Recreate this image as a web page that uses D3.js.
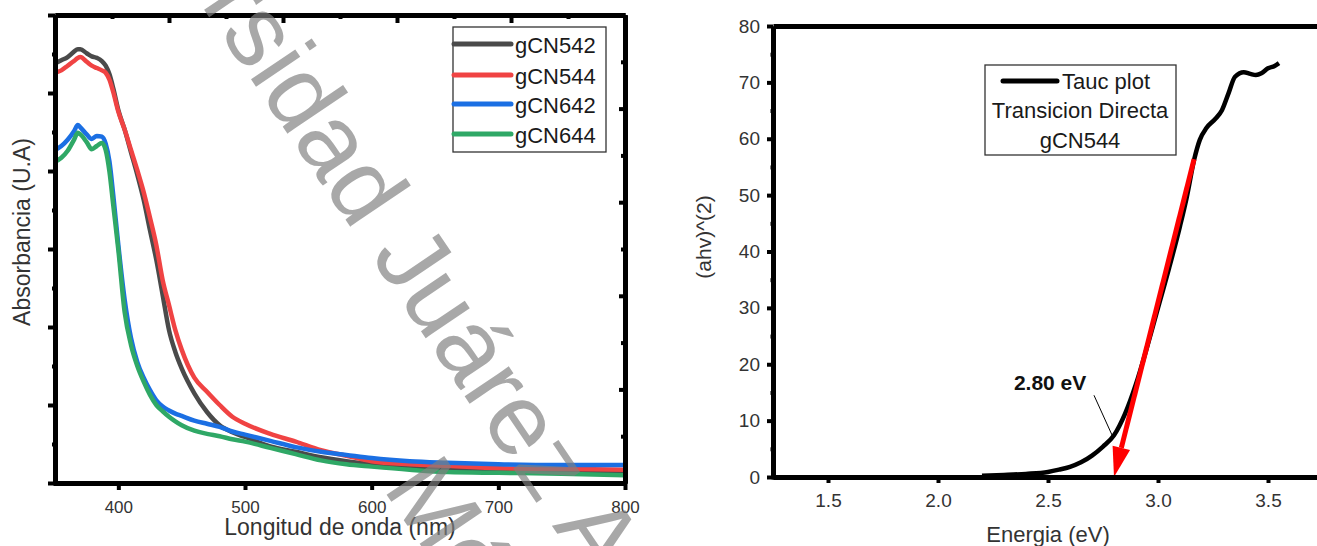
<!DOCTYPE html>
<html><head><meta charset="utf-8">
<script src="https://cdn.jsdelivr.net/npm/d3@7"></script>
<style>
body{margin:0;background:#fff}
svg{display:block}
text{font-family:"Liberation Sans",Arial,sans-serif}
</style>
</head><body>
<svg id="c" width="1317" height="546"></svg>
<script>
// ---------- Data: left chart (UV-Vis absorbance) ----------
const wavelengths = [350,355,360,365,368,370,375,379,383,387,390,393,396,400,405,410,415,420,425,430,435,440,445,450,460,470,480,490,500,520,540,560,580,600,630,660,700,750,800];
const gCN542 = [5.38,5.42,5.46,5.53,5.56,5.56,5.51,5.47,5.45,5.41,5.35,5.24,5.06,4.78,4.53,4.24,3.95,3.63,3.24,2.86,2.41,1.96,1.68,1.47,1.15,0.91,0.74,0.65,0.59,0.47,0.40,0.33,0.28,0.24,0.21,0.18,0.17,0.15,0.14];
const gCN544 = [5.26,5.29,5.35,5.41,5.45,5.46,5.40,5.35,5.32,5.29,5.26,5.17,5.01,4.76,4.53,4.27,4.01,3.73,3.40,3.05,2.60,2.28,1.96,1.71,1.35,1.17,1.00,0.85,0.76,0.63,0.53,0.42,0.35,0.28,0.24,0.22,0.19,0.18,0.17];
const gCN642 = [4.27,4.32,4.40,4.51,4.59,4.56,4.47,4.41,4.45,4.44,4.35,4.12,3.69,3.05,2.35,1.86,1.55,1.35,1.19,1.06,0.98,0.93,0.89,0.86,0.80,0.76,0.72,0.66,0.62,0.54,0.46,0.40,0.36,0.32,0.28,0.26,0.24,0.23,0.23];
const gCN644 = [4.12,4.17,4.26,4.40,4.49,4.47,4.37,4.28,4.32,4.36,4.27,3.99,3.56,2.99,2.19,1.77,1.50,1.30,1.13,1.00,0.92,0.85,0.79,0.74,0.67,0.63,0.60,0.56,0.53,0.45,0.37,0.29,0.24,0.21,0.17,0.14,0.13,0.12,0.10];
const seriesNames = ["gCN542","gCN544","gCN642","gCN644"];
const seriesColors = ["#4a4a4a","#f04343","#1b6fe3","#2fa866"];
const nmTicks = [400,500,600,700,800];
const nmMinor = [350,450,550,650,750];
const absMajor = [0,1,2,3,4,5,6];
const absMinor = [0.5,1.5,2.5,3.5,4.5,5.5];
const auxMajor = [0,0.2,0.4,0.6,0.8,1.0];
const auxMinor = [0.1,0.3,0.5,0.7,0.9];

// ---------- Data: right chart (Tauc plot) ----------
const energy = [2.2,2.3,2.4,2.5,2.55,2.6,2.65,2.7,2.75,2.8,2.85,2.9,2.95,3.0,3.05,3.1,3.13,3.165,3.19,3.22,3.26,3.29,3.32,3.35,3.39,3.42,3.445,3.47,3.5,3.53,3.55];
const taucValues = [0.2,0.35,0.55,0.9,1.3,1.8,2.6,3.8,5.4,7.4,11.2,16.5,23,30,37,44.5,49.5,56.4,59.8,61.9,63.5,65,68,71,71.8,71.5,71.3,71.6,72.5,72.9,73.4];
const fitEnergy = [3.164, 2.80];
const fitValues = [56.4, 0];
const eTicks = [1.5,2.0,2.5,3.0,3.5];
const eMinor = [1.25,1.75,2.25,2.75,3.25,3.75];
const tTicks = [0,10,20,30,40,50,60,70,80];
const tMinor = [5,15,25,35,45,55,65,75];
const gapLabel = "2.80 eV";
const gapLabelPos = [2.345, 15.4];
const gapLeader = [[2.709,14.5],[2.795,7.1]];
const taucLegend = ["Tauc plot","Transicion Directa","gCN544"];

// ---------- Watermark text ----------
const watermarkLines = ["Universidad Juárez Autónoma de Tabasco","México"];

const svg = d3.select("#c");

function styleAxis(g, w, tickW){
  g.select(".domain").attr("stroke","#000").attr("stroke-width",w);
  g.selectAll(".tick line").attr("stroke","#000").attr("stroke-width",tickW);
}

// ================= LEFT CHART =================
const x1 = d3.scaleLinear().domain([350,800]).range([55,625]);
const y1 = d3.scaleLinear().domain([0,6]).range([483,15]);
const xTop = d3.scaleLinear().domain([0,1]).range([55,625]);
const yRight = d3.scaleLinear().domain([0,1]).range([483,15]);

const L = svg.append("g");

const line1 = d3.line().x((d,i)=>x1(wavelengths[i])).y(d=>y1(d)).curve(d3.curveMonotoneX);
[gCN542,gCN544,gCN642,gCN644].forEach((s,k)=>{
  L.append("path").attr("d",line1(s)).attr("fill","none")
   .attr("stroke",seriesColors[k]).attr("stroke-width",4.5).attr("stroke-linejoin","round");
});

const gb = L.append("g").attr("transform","translate(0,483)")
  .call(d3.axisBottom(x1).tickValues(nmTicks).tickSize(7).tickSizeOuter(0).tickPadding(11));
styleAxis(gb,5,4);
gb.selectAll("text").attr("font-size",17).attr("fill","#333");
const gbm = L.append("g").attr("transform","translate(0,483)")
  .call(d3.axisBottom(x1).tickValues(nmMinor).tickSize(3).tickSizeOuter(0).tickFormat(""));
styleAxis(gbm,5,4);

const gl = L.append("g").attr("transform","translate(55,0)")
  .call(d3.axisLeft(y1).tickValues(absMajor).tickSize(7).tickSizeOuter(0).tickFormat(""));
styleAxis(gl,5,4);
const glm = L.append("g").attr("transform","translate(55,0)")
  .call(d3.axisLeft(y1).tickValues(absMinor).tickSize(3).tickSizeOuter(0).tickFormat(""));
styleAxis(glm,5,4);

const gt = L.append("g").attr("transform","translate(0,15)")
  .call(d3.axisTop(xTop).tickValues(auxMajor).tickSize(-8).tickSizeOuter(0).tickFormat(""));
styleAxis(gt,5,4);
const gtm = L.append("g").attr("transform","translate(0,15)")
  .call(d3.axisTop(xTop).tickValues(auxMinor).tickSize(-4).tickSizeOuter(0).tickFormat(""));
styleAxis(gtm,5,4);

const gr = L.append("g").attr("transform","translate(625,0)")
  .call(d3.axisRight(yRight).tickValues(auxMajor).tickSize(-6).tickSizeOuter(0).tickFormat(""));
styleAxis(gr,5,4);
const grm = L.append("g").attr("transform","translate(625,0)")
  .call(d3.axisRight(yRight).tickValues(auxMinor).tickSize(-4).tickSizeOuter(0).tickFormat(""));
styleAxis(grm,5,4);

L.append("text").attr("x",340).attr("y",535).attr("text-anchor","middle")
  .attr("font-size",23).attr("fill","#333").text("Longitud de onda (nm)");
L.append("text").attr("transform","translate(30,232) rotate(-90)").attr("text-anchor","middle")
  .attr("font-size",23).attr("fill","#333").text("Absorbancia (U.A)");

const lg = L.append("g");
lg.append("rect").attr("x",453).attr("y",27).attr("width",153).attr("height",125)
  .attr("fill","#fff").attr("stroke","#333").attr("stroke-width",1.3);
const legY = [44,75,104,134];
seriesNames.forEach((n,k)=>{
  lg.append("line").attr("x1",454).attr("x2",511).attr("y1",legY[k]).attr("y2",legY[k])
    .attr("stroke",seriesColors[k]).attr("stroke-width",5).attr("stroke-linecap","round");
  lg.append("text").attr("x",515).attr("y",legY[k]+9).attr("font-size",22).attr("fill","#1a1a1a").text(n);
});

// ================= RIGHT CHART =================
const x2 = d3.scaleLinear().domain([1.25,3.75]).range([773,1323]);
const y2 = d3.scaleLinear().domain([0,80]).range([477,26]);
const R = svg.append("g");

const rt = R.append("g").attr("transform","translate(0,26)")
  .call(d3.axisTop(x2).tickValues([]).tickSizeOuter(0));
styleAxis(rt,5,4);

const line2 = d3.line().x((d,i)=>x2(energy[i])).y(d=>y2(d)).curve(d3.curveMonotoneX);
R.append("path").attr("d",line2(taucValues)).attr("fill","none")
  .attr("stroke","#000").attr("stroke-width",4.5).attr("stroke-linejoin","round");

{
  const xa = x2(fitEnergy[0]), ya = y2(fitValues[0]);
  const xb = x2(fitEnergy[1]), yb = y2(fitValues[1]);
  const dx = xb-xa, dy = yb-ya, len = Math.hypot(dx,dy);
  const ux = dx/len, uy = dy/len, hl = 30, hw = 9;
  const bx = xb-ux*hl, by = yb-uy*hl;
  R.append("line").attr("x1",xa).attr("y1",ya).attr("x2",bx).attr("y2",by)
    .attr("stroke","#ff0000").attr("stroke-width",5);
  R.append("polygon").attr("fill","#ff0000")
    .attr("points",[[xb,yb],[bx-uy*hw,by+ux*hw],[bx+uy*hw,by-ux*hw]].map(p=>p.join(",")).join(" "));
}

const rb = R.append("g").attr("transform","translate(0,477)")
  .call(d3.axisBottom(x2).tickValues(eTicks).tickSize(6).tickSizeOuter(0).tickPadding(10.5).tickFormat(d3.format(".1f")));
styleAxis(rb,5,4);
rb.selectAll("text").attr("font-size",19).attr("fill","#333");
const rbm = R.append("g").attr("transform","translate(0,477)")
  .call(d3.axisBottom(x2).tickValues(eMinor).tickSize(2.5).tickSizeOuter(0).tickFormat(""));
styleAxis(rbm,5,4);

const rl = R.append("g").attr("transform","translate(773,0)")
  .call(d3.axisLeft(y2).tickValues(tTicks).tickSize(6).tickSizeOuter(0).tickPadding(7));
styleAxis(rl,5,4);
rl.selectAll("text").attr("font-size",19).attr("fill","#333");
const rlm = R.append("g").attr("transform","translate(773,0)")
  .call(d3.axisLeft(y2).tickValues(tMinor).tickSize(2.5).tickSizeOuter(0).tickFormat(""));
styleAxis(rlm,5,4);

R.append("text").attr("x",1048).attr("y",542).attr("text-anchor","middle")
  .attr("font-size",22).attr("fill","#333").text("Energia (eV)");
R.append("text").attr("transform","translate(711,237) rotate(-90)").attr("text-anchor","middle")
  .attr("font-size",21).attr("fill","#333").text("(ahv)^(2)");

R.append("text").attr("x",x2(gapLabelPos[0])).attr("y",y2(gapLabelPos[1]))
  .attr("font-size",21).attr("font-weight","bold").attr("fill","#111").text(gapLabel);
R.append("line").attr("x1",x2(gapLeader[0][0])).attr("y1",y2(gapLeader[0][1]))
  .attr("x2",x2(gapLeader[1][0])).attr("y2",y2(gapLeader[1][1]))
  .attr("stroke","#000").attr("stroke-width",1);

const rg = R.append("g");
rg.append("rect").attr("x",985).attr("y",65).attr("width",191).attr("height",90)
  .attr("fill","#fff").attr("stroke","#333").attr("stroke-width",1.3);
rg.append("line").attr("x1",1003).attr("x2",1057).attr("y1",81).attr("y2",81)
  .attr("stroke","#000").attr("stroke-width",5).attr("stroke-linecap","round");
rg.append("text").attr("x",1062).attr("y",89).attr("font-size",22).attr("fill","#1a1a1a").text(taucLegend[0]);
rg.append("text").attr("x",1080).attr("y",118).attr("text-anchor","middle").attr("font-size",22).attr("fill","#1a1a1a").text(taucLegend[1]);
rg.append("text").attr("x",1080).attr("y",148).attr("text-anchor","middle").attr("font-size",22).attr("fill","#1a1a1a").text(taucLegend[2]);

// ================= WATERMARK =================
{
  const ang = 56, rad = ang*Math.PI/180, dx = Math.cos(rad), dy = Math.sin(rad);
  const fs = 101;
  const W = svg.append("g").attr("pointer-events","none");
  const t1 = W.append("text")
    .attr("font-family","'Liberation Serif','Times New Roman',serif").attr("font-size",fs)
    .attr("fill","#808080").attr("opacity",0.68).text(watermarkLines[0]);
  const sStart = [219, 32];
  const pre = t1.node().getSubStringLength(0,6);
  t1.attr("transform",`translate(${sStart[0]-pre*dx},${sStart[1]-pre*dy}) rotate(${ang})`);
  W.append("text").attr("transform","translate(382,488) rotate(56)")
    .attr("font-family","'Liberation Serif','Times New Roman',serif").attr("font-size",fs)
    .attr("fill","#808080").attr("opacity",0.68).text(watermarkLines[1]);
}
</script>
</body></html>
